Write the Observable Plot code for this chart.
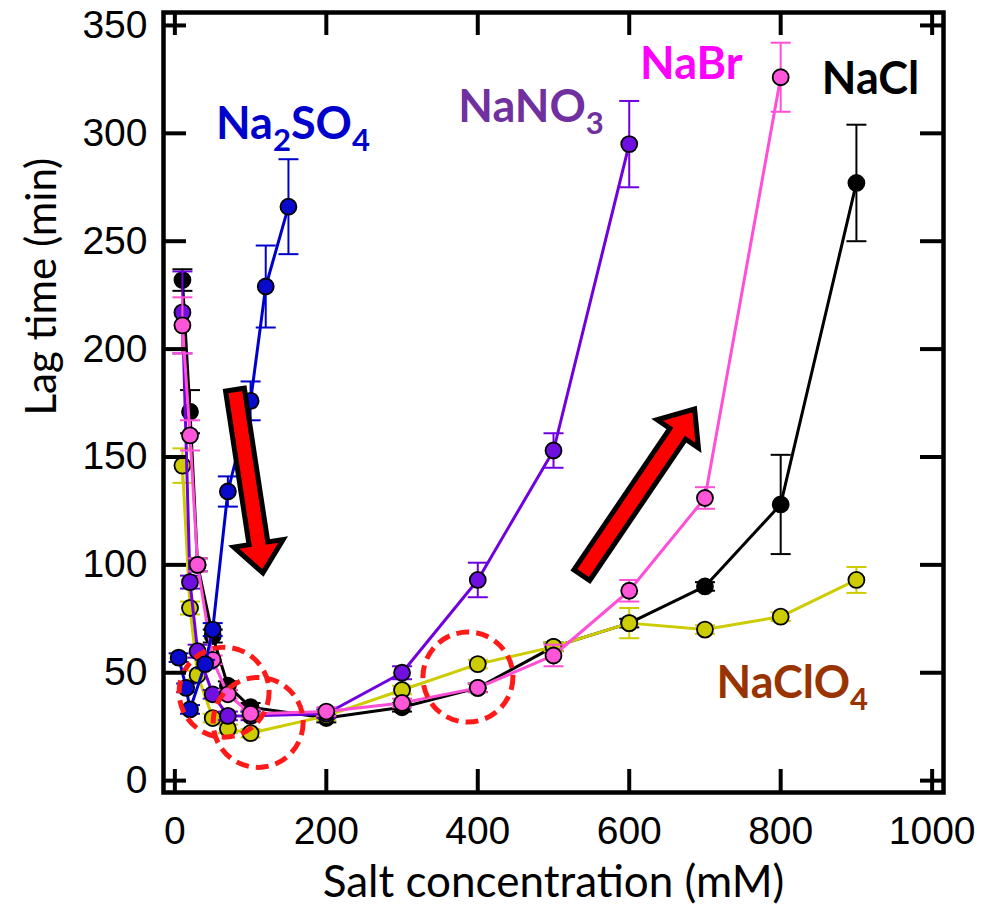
<!DOCTYPE html>
<html>
<head>
<meta charset="utf-8">
<script src="https://cdn.jsdelivr.net/npm/d3@7"></script>
<script src="https://cdn.jsdelivr.net/npm/@observablehq/plot@0.6"></script>
<style>
  body { margin: 0; background: #fff; }
</style>
</head>
<body>
<div id="chart"></div>
<script>
// Axis ticks
const xTicks = [0, 200, 400, 600, 800, 1000];
const yTicks = [0, 50, 100, 150, 200, 250, 300, 350];

// Lag time (min) vs salt concentration (mM), mean ± error
const naclConc = [10, 20, 30, 50, 70, 100, 200, 300, 400, 500, 600, 700, 800, 900];
const naclLag  = [232, 171, 100, 67, 44, 34, 29, 34, 43, 62, 73, 90, 128, 277];
const naclErr  = [5, 10, 3, 3, 2, 2, 2, 2, 2, 2, 2, 2, 23, 27];

const naclo4Conc = [10, 20, 30, 50, 70, 100, 200, 300, 400, 500, 600, 700, 800, 900];
const naclo4Lag  = [146, 80, 49, 29, 24, 22, 30, 42, 54, 62, 73, 70, 76, 93];
const naclo4Err  = [8, 3, 2, 2, 2, 2, 2, 2, 2, 2, 7, 2, 2, 6];

const nano3Conc = [10, 20, 30, 50, 70, 100, 200, 300, 400, 500, 600];
const nano3Lag  = [217, 92, 60, 40, 30, 30, 31, 50, 93, 153, 295];
const nano3Err  = [19, 3, 3, 2, 2, 2, 2, 3, 8, 8, 20];

const nabrConc = [10, 20, 30, 50, 70, 100, 200, 300, 400, 500, 600, 700, 800];
const nabrLag  = [211, 160, 100, 56, 40, 31, 32, 36, 43, 58, 88, 131, 326];
const nabrErr  = [13, 7, 3, 2, 2, 2, 2, 2, 2, 5, 5, 5, 16];

const na2so4Conc = [5, 15, 20, 40, 50, 70, 100, 120, 150];
const na2so4Lag  = [57, 43, 33, 54, 70, 134, 176, 229, 266];
const na2so4Err  = [2, 2, 2, 2, 3, 7, 9, 19, 22];

// Series styling, drawn bottom to top
const seriesKeys   = ["NaCl", "NaClO4", "NaNO3", "NaBr", "Na2SO4"];
const seriesLine   = ["#000000", "#cccc00", "#7000e0", "#ff4fd6", "#0000cc"];
const seriesMarker = ["#000000", "#cccc00", "#7010e0", "#ff55d8", "#0a0acc"];

// Series name labels (subscripts marked with "_"), left/baseline in data coordinates
const labelText  = ["Na_2SO_4", "NaNO_3", "NaBr", "NaCl", "NaClO_4"];
const labelConc  = [55, 375, 615, 855, 716];
const labelLag   = [297, 305, 325, 318, 38];
const labelColor = ["#0000cc", "#7030a0", "#ff00ff", "#000000", "#993300"];

// Dashed highlight circles
const ringConc = [65, 110, 387];
const ringLag  = [41, 27, 48];

// Trend arrows: tail -> tip
const arrowFromConc = [80, 538];
const arrowFromLag  = [181, 95];
const arrowToConc   = [117, 687];
const arrowToLag    = [96, 172];

const columns = {
  NaCl: [naclConc, naclLag, naclErr],
  NaClO4: [naclo4Conc, naclo4Lag, naclo4Err],
  NaNO3: [nano3Conc, nano3Lag, nano3Err],
  NaBr: [nabrConc, nabrLag, nabrErr],
  Na2SO4: [na2so4Conc, na2so4Lag, na2so4Err]
};

const tables = seriesKeys.map((key) => {
  const [c, l, e] = columns[key];
  return c.map((conc, i) => ({salt: key, conc, lag: l[i], err: e[i]}));
});

// Horizontal cap for error bars (width = 2r)
const capSymbol = {
  draw(context, size) {
    const w = Math.sqrt(size / Math.PI);
    context.moveTo(-w, 0);
    context.lineTo(w, 0);
  }
};

const width = 981, height = 917;
const marginLeft = 163, marginRight = 38, marginTop = 12, marginBottom = 125;
const frameW = width - marginLeft - marginRight;
const frameH = height - marginTop - marginBottom;
const tickLen = 23;

const seriesMarks = tables.flatMap((rows, k) => [
  Plot.line(rows, {x: "conc", y: "lag", stroke: seriesLine[k], strokeWidth: 3}),
  Plot.ruleX(rows, {x: "conc", y1: (d) => d.lag - d.err, y2: (d) => d.lag + d.err, stroke: seriesLine[k], strokeWidth: 2}),
  Plot.dot(rows, {x: "conc", y: (d) => d.lag + d.err, symbol: capSymbol, r: 10, fill: "none", stroke: seriesLine[k], strokeWidth: 2}),
  Plot.dot(rows, {x: "conc", y: (d) => d.lag - d.err, symbol: capSymbol, r: 10, fill: "none", stroke: seriesLine[k], strokeWidth: 2}),
  Plot.dot(rows, {x: "conc", y: "lag", r: 8, fill: seriesMarker[k], stroke: "#000", strokeWidth: 1.8})
]);

const rings = ringConc.map((c, i) => ({conc: c, lag: ringLag[i]}));

// Block arrows drawn as polygons through the x/y scales
function arrowMark(index, scales) {
  const g = d3.create("svg:g");
  arrowFromConc.forEach((_, i) => {
    const tx = scales.x(arrowFromConc[i]), ty = scales.y(arrowFromLag[i]);
    const px = scales.x(arrowToConc[i]), py = scales.y(arrowToLag[i]);
    const len = Math.hypot(px - tx, py - ty);
    const ux = (px - tx) / len, uy = (py - ty) / len;
    const nx = -uy, ny = ux;
    const sw = 9.5, hw = 25, hl = 30;
    const bx = px - ux * hl, by = py - uy * hl;
    const pts = [
      [tx + nx * sw, ty + ny * sw],
      [bx + nx * sw, by + ny * sw],
      [bx + nx * hw, by + ny * hw],
      [px, py],
      [bx - nx * hw, by - ny * hw],
      [bx - nx * sw, by - ny * sw],
      [tx - nx * sw, ty - ny * sw]
    ];
    g.append("polygon")
      .attr("points", pts.map((p) => p.join(",")).join(" "))
      .attr("fill", "#ff0000")
      .attr("stroke", "#000")
      .attr("stroke-width", 5)
      .attr("stroke-linejoin", "miter");
  });
  return g.node();
}

// Series names with subscript digits
function labelMark(index, scales) {
  const g = d3.create("svg:g")
    .attr("font-family", "Lato, 'Open Sans', sans-serif")
    .attr("font-weight", "bold")
    .attr("text-anchor", "start");
  labelText.forEach((str, i) => {
    const t = g.append("text")
      .attr("x", scales.x(labelConc[i]))
      .attr("y", scales.y(labelLag[i]))
      .attr("fill", labelColor[i])
      .attr("font-size", 45);
    const parts = str.split(/_(\d)/);
    parts.forEach((p, j) => {
      if (!p) return;
      if (j % 2 === 1) {
        t.append("tspan").attr("font-size", 31).attr("dy", 12).text(p);
      } else {
        const s = t.append("tspan").text(p);
        if (j > 0) s.attr("dy", -12);
      }
    });
  });
  return g.node();
}

const chart = Plot.plot({
  width, height, marginLeft, marginRight, marginTop, marginBottom,
  style: {fontFamily: "'Liberation Sans', Arial, sans-serif", background: "#fff", color: "#000"},
  x: {domain: [-15, 1015]},
  y: {domain: [-5.5, 356]},
  marks: [
    ...seriesMarks,
    Plot.dot(rings, {x: "conc", y: "lag", r: 45, fill: "none", stroke: "#ff1a1a", strokeWidth: 5, strokeDasharray: "13,7"}),
    arrowMark,
    labelMark,
    // inward ticks on all four sides
    Plot.tickX(xTicks, {x: (d) => d, insetTop: frameH - tickLen, stroke: "#000", strokeWidth: 4}),
    Plot.tickX(xTicks, {x: (d) => d, insetBottom: frameH - tickLen, stroke: "#000", strokeWidth: 4}),
    Plot.tickY(yTicks, {y: (d) => d, insetRight: frameW - tickLen, stroke: "#000", strokeWidth: 4}),
    Plot.tickY(yTicks, {y: (d) => d, insetLeft: frameW - tickLen, stroke: "#000", strokeWidth: 4}),
    Plot.axisX({ticks: xTicks, tickFormat: (d) => String(d), tickSize: 0, tickPadding: 24, fontSize: 39, label: null}),
    Plot.axisY({ticks: yTicks, tickFormat: (d) => String(d), tickSize: 0, tickPadding: 16, fontSize: 39, label: null}),
    Plot.frame({stroke: "#000", strokeWidth: 4.5}),
    Plot.text(["Salt concentration (mM)"], {text: (d) => d, frameAnchor: "bottom", dy: 104, fontSize: 44, fontFamily: "Lato, 'Open Sans', sans-serif"}),
    Plot.text(["Lag time (min)"], {text: (d) => d, frameAnchor: "left", rotate: -90, dx: -121, dy: 13, fontSize: 42, fontFamily: "Lato, 'Open Sans', sans-serif"})
  ]
});

document.getElementById("chart").appendChild(chart);
</script>
</body>
</html>
